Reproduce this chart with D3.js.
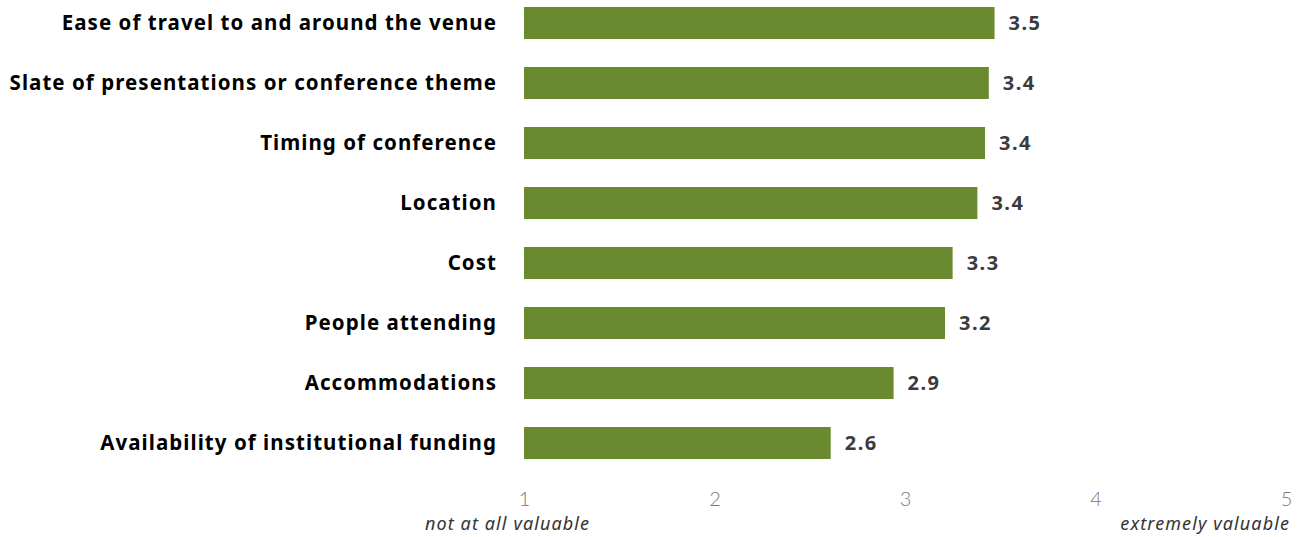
<!DOCTYPE html>
<html>
<head>
<meta charset="utf-8">
<script src="https://cdn.jsdelivr.net/npm/d3@7"></script>
<style>
  html, body { margin: 0; padding: 0; background: #fff; }
  svg { display: block; }
</style>
</head>
<body>
<svg id="chart" width="1302" height="537"></svg>
<script>
// Mean ratings of conference factors (1 = not at all valuable, 5 = extremely valuable)
const categories = [
  "Ease of travel to and around the venue",
  "Slate of presentations or conference theme",
  "Timing of conference",
  "Location",
  "Cost",
  "People attending",
  "Accommodations",
  "Availability of institutional funding"
];
const values = [3.47, 3.44, 3.42, 3.38, 3.25, 3.21, 2.94, 2.61];
const tickValues = [1, 2, 3, 4, 5];
const scaleEndLabels = ["not at all valuable", "extremely valuable"];

const svg = d3.select("#chart");
const plotLeft = 524, plotRight = 1286;
const plotTop = -7, rowStep = 60;
const labelFont = "'Noto Sans', 'Open Sans', sans-serif";

const x = d3.scaleLinear().domain([1, 5]).range([plotLeft, plotRight]);
const y = d3.scaleBand()
  .domain(categories)
  .range([plotTop, plotTop + rowStep * categories.length])
  .paddingInner(28 / 60)
  .paddingOuter(14 / 60);

const rows = svg.append("g").selectAll("g")
  .data(categories.map((c, i) => ({ c, v: values[i] })))
  .join("g");

rows.append("rect")
  .attr("x", x(1))
  .attr("y", d => y(d.c))
  .attr("width", d => x(d.v) - x(1))
  .attr("height", y.bandwidth())
  .attr("fill", "#6a8a2f");

rows.append("text")
  .attr("x", plotLeft - 27)
  .attr("y", d => y(d.c) + y.bandwidth() / 2)
  .attr("dy", "0.36em")
  .attr("text-anchor", "end")
  .attr("font-family", labelFont)
  .attr("font-weight", 700)
  .attr("font-size", "20.5px")
  .attr("letter-spacing", "1.05px")
  .attr("fill", "#000")
  .text(d => d.c);

rows.append("text")
  .attr("x", d => x(d.v) + 14)
  .attr("y", d => y(d.c) + y.bandwidth() / 2)
  .attr("dy", "0.36em")
  .attr("font-family", labelFont)
  .attr("font-weight", 700)
  .attr("font-size", "20px")
  .attr("letter-spacing", "1.5px")
  .attr("fill", "#3b3b3b")
  .text(d => d3.format(".1f")(d.v));

// Value axis along the bottom, ticks only as labels
const axis = svg.append("g")
  .attr("transform", "translate(0,506)")
  .call(d3.axisBottom(x).tickValues(tickValues).tickFormat(d3.format("d")).tickSize(0).tickPadding(0));
axis.select(".domain").remove();
axis.selectAll("text")
  .attr("dy", null)
  .attr("font-family", "Lato, sans-serif")
  .attr("font-weight", 300)
  .attr("font-size", "20px")
  .attr("fill", "#7a7a7a");

// Scale end descriptions under the first and last ticks
svg.append("text")
  .attr("x", 425)
  .attr("y", 530)
  .attr("font-family", labelFont)
  .attr("font-style", "italic")
  .attr("font-size", "18px")
  .attr("letter-spacing", "1.1px")
  .attr("fill", "#333")
  .text(scaleEndLabels[0]);

svg.append("text")
  .attr("x", x(5) + 4)
  .attr("y", 530)
  .attr("text-anchor", "end")
  .attr("font-family", labelFont)
  .attr("font-style", "italic")
  .attr("font-size", "18px")
  .attr("letter-spacing", "1.1px")
  .attr("fill", "#333")
  .text(scaleEndLabels[1]);
</script>
</body>
</html>
